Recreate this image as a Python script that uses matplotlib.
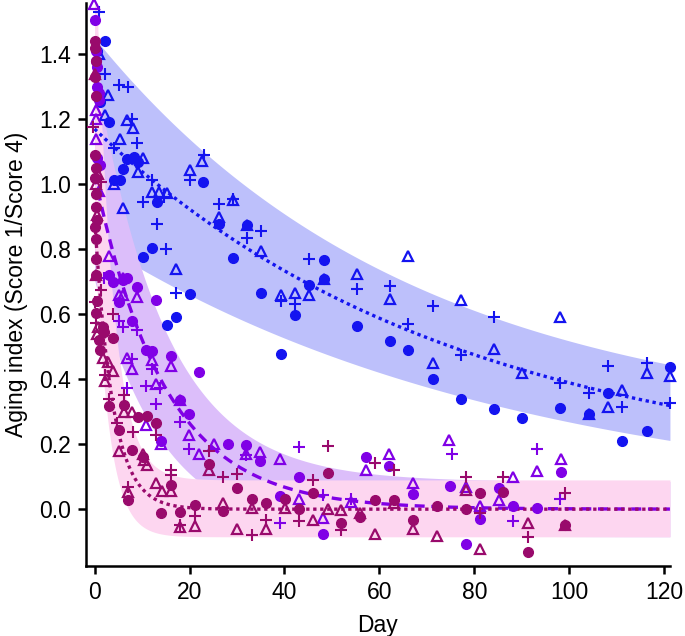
import numpy as np
import matplotlib
matplotlib.use('Agg')
import matplotlib.pyplot as plt

plt.rcParams['font.family'] = ['Liberation Sans', 'DejaVu Sans']

# ---- data: (day, aging index) ----
blue_circle = [(2.1, 1.44), (0.6, 1.41), (1.1, 1.253), (3.0, 1.19), (8.3, 1.084), (6.9, 1.076),
               (9.1, 1.069), (6.0, 1.048), (4.2, 1.012), (5.3, 1.012), (22.8, 1.007), (13.2, 0.944),
               (12.0, 0.804), (10.1, 0.775), (20.2, 0.662), (15.2, 0.568), (17.1, 0.591), (26.2, 0.877),
               (32.2, 0.874), (29.1, 0.772), (48.3, 0.768), (48.3, 0.708), (45.1, 0.69), (35.0, 0.666),
               (42.2, 0.596), (55.2, 0.564), (62.2, 0.517), (66.1, 0.489), (39.2, 0.476), (71.3, 0.40),
               (77.1, 0.338), (84.1, 0.309), (90.1, 0.281), (98.1, 0.311), (104.1, 0.294), (108.1, 0.359),
               (111.0, 0.21), (116.4, 0.241), (121.3, 0.436)]
blue_triangle = [(0.9, 1.40), (2.8, 1.274), (2.1, 1.214), (6.9, 1.197), (8.1, 1.172), (5.3, 1.14),
                 (10.3, 1.08), (9.1, 1.038), (4.2, 1.002), (20.2, 1.045), (22.7, 1.07), (12.1, 0.976),
                 (13.6, 0.976), (15.2, 0.973), (6.0, 0.927), (17.1, 0.738), (29.1, 0.95), (26.2, 0.90),
                 (32.2, 0.874), (35.0, 0.794), (48.3, 0.708), (39.2, 0.66), (42.2, 0.666), (45.1, 0.658),
                 (55.2, 0.723), (66.1, 0.778), (62.2, 0.647), (71.3, 0.451), (77.1, 0.643), (98.1, 0.59),
                 (84.1, 0.494), (90.1, 0.42), (111.0, 0.366), (116.4, 0.419), (121.3, 0.41), (108.1, 0.315),
                 (104.1, 0.294)]
blue_plus = [(0.9, 1.53), (2.1, 1.34), (5.1, 1.305), (7.0, 1.30), (7.9, 1.202), (9.0, 1.127), (4.2, 1.112),
             (12.1, 1.012), (20.2, 1.012), (14.6, 0.961), (10.2, 0.944), (13.2, 0.876), (15.0, 0.80),
             (17.1, 0.664), (23.0, 1.09), (26.2, 0.94), (29.1, 0.955), (35.0, 0.856), (32.2, 0.833),
             (45.1, 0.77), (39.2, 0.64), (42.2, 0.63), (55.2, 0.677), (62.2, 0.687), (66.1, 0.569),
             (71.3, 0.626), (84.1, 0.592), (77.1, 0.473), (98.1, 0.387), (104.1, 0.358), (108.1, 0.44),
             (116.4, 0.45), (121.3, 0.328), (111.0, 0.315)]

purple_circle = [(0.0, 1.505), (0.3, 1.41), (0.3, 1.38), (0.6, 1.36), (0.6, 1.30), (0.9, 1.28), (1.0, 1.26),
                 (0.5, 1.08), (1.2, 1.06), (3.0, 0.72), (3.9, 0.70), (6.9, 0.71), (6.0, 0.705), (9.0, 0.684),
                 (5.1, 0.638), (12.9, 0.645), (7.9, 0.578), (10.8, 0.489), (12.1, 0.486), (16.2, 0.47),
                 (22.0, 0.422), (18.0, 0.335), (19.9, 0.292), (13.9, 0.21), (28.1, 0.199), (32.0, 0.197),
                 (34.9, 0.149), (43.0, 0.10), (39.0, 0.04), (48.1, -0.077), (57.1, 0.161), (62.0, 0.132),
                 (67.1, 0.048), (74.8, 0.071), (78.2, -0.106), (81.1, -0.029), (85.2, 0.064), (88.1, 0.009),
                 (93.3, 0.005), (98.2, 0.115)]
purple_triangle = [(-0.1, 1.554), (0.2, 1.228), (0.2, 1.20), (0.4, 1.14), (1.0, 0.98), (3.0, 0.78),
                   (6.0, 0.71), (5.1, 0.66), (6.0, 0.66), (9.0, 0.653), (12.1, 0.458), (16.2, 0.44),
                   (6.9, 0.466), (7.9, 0.43), (12.9, 0.384), (18.0, 0.335), (10.8, 0.258), (19.9, 0.228),
                   (22.0, 0.171), (13.9, 0.20), (25.1, 0.202), (32.0, 0.171), (34.9, 0.176), (39.0, 0.153),
                   (43.0, 0.031), (48.1, -0.026), (54.1, 0.022), (57.1, 0.122), (62.0, 0.169), (67.1, 0.079),
                   (74.7, 0.214), (78.3, 0.069), (81.1, 0.009), (85.2, 0.028), (88.1, 0.10), (93.3, 0.118),
                   (98.2, 0.154)]
purple_plus = [(2.0, 0.71), (5.1, 0.58), (6.0, 0.56), (9.0, 0.55), (7.9, 0.461), (12.1, 0.43), (6.9, 0.373),
               (10.8, 0.378), (13.8, 0.373), (12.9, 0.325), (18.1, 0.269), (19.9, 0.184), (32.0, 0.167),
               (43.0, 0.19), (39.0, -0.042), (48.1, 0.045), (54.1, 0.03), (75.2, 0.169), (88.1, -0.036),
               (93.3, 0.185), (98.1, 0.031)]

magenta_circle = [(0.0, 1.44), (0.0, 1.42), (0.2, 1.38), (0.1, 1.33), (0.3, 1.27), (0.0, 1.09), (0.2, 1.05),
                  (0.1, 1.02), (0.3, 0.97), (0.2, 0.93), (0.5, 0.89), (0.0, 0.869), (0.2, 0.83), (0.3, 0.77),
                  (0.2, 0.72), (0.6, 0.64), (0.3, 0.603), (1.8, 0.56), (2.0, 0.545), (3.9, 0.527), (1.0, 0.52),
                  (1.1, 0.489), (3.0, 0.317), (6.2, 0.32), (9.1, 0.284), (11.1, 0.286), (12.9, 0.266),
                  (5.1, 0.245), (7.9, 0.182), (10.1, 0.16), (16.1, 0.074), (7.0, 0.028), (14.1, -0.013),
                  (18.1, -0.01), (21.1, 0.012), (24.1, 0.138), (30.0, 0.066), (27.1, -0.005), (33.1, 0.03),
                  (36.1, 0.019), (40.1, 0.03), (43.0, 0.002), (46.0, 0.051), (49.1, 0.11), (52.0, -0.042),
                  (56.0, -0.024), (59.0, 0.028), (63.0, 0.028), (67.0, -0.034), (72.1, 0.009), (78.2, -0.001),
                  (81.1, 0.05), (86.0, 0.053), (91.2, -0.131), (99.2, -0.049)]
magenta_triangle = [(0.0, 1.34), (0.7, 1.03), (0.3, 1.0), (0.5, 0.905), (0.3, 0.72), (0.7, 0.56), (0.5, 0.54),
                    (1.8, 0.465), (2.8, 0.453), (3.9, 0.425), (2.3, 0.395), (6.2, 0.30), (7.9, 0.30),
                    (5.1, 0.178), (10.1, 0.17), (11.0, 0.135), (10.5, 0.15), (12.9, 0.079), (7.0, 0.054),
                    (14.3, 0.056), (16.1, 0.056), (21.1, -0.052), (18.1, -0.055), (24.1, 0.122), (27.1, 0.018),
                    (33.1, 0.005), (36.1, -0.062), (30.0, -0.062), (40.1, 0.005), (46.0, -0.032), (49.1, 0.002),
                    (52.0, -0.003), (56.0, -0.013), (59.0, -0.077), (63.0, 0.018), (67.0, -0.06), (72.1, -0.083),
                    (78.2, 0.058), (81.1, -0.124), (91.2, -0.044), (99.2, -0.049)]
magenta_plus = [(-0.3, 1.176), (1.4, 1.007), (1.4, 0.674), (0.0, 0.637), (3.9, 0.602), (0.3, 0.572),
                (2.3, 0.412), (3.0, 0.34), (6.2, 0.35), (4.8, 0.264), (8.1, 0.238), (12.9, 0.228),
                (16.1, 0.105), (16.1, 0.12), (7.0, 0.069), (21.1, -0.02), (18.1, -0.05), (24.1, 0.179),
                (27.1, 0.098), (30.0, 0.108), (36.1, -0.034), (33.1, -0.08), (43.0, -0.035), (46.0, 0.089),
                (49.1, 0.194), (52.0, -0.065), (59.0, 0.143), (63.0, 0.12), (78.2, 0.1), (81.1, -0.011),
                (86.0, 0.1), (91.2, -0.085), (99.2, 0.05)]

# exponential fits  y = a*exp(-k*t) + c  (fit, upper and lower band)
blue_fit, blue_hi, blue_lo = (1.07, 0.0131, 0.10), (1.2, 0.015, 0.25), (0.825, 0.01123, 0.0)
purple_fit, purple_hi, purple_lo = (1.03, 0.068, 0.0), (1.28, 0.068, 0.085), (0.79, 0.07, -0.085)
magenta_fit, magenta_hi, magenta_lo = (0.9, 0.265, 0.0), (1.7, 0.29, 0.09), (0.9, 0.33, -0.085)

c_blue, c_purple, c_magenta = '#1414f0', '#8000e6', '#990a6c'
band_blue, band_purple, band_magenta = '#bdc0fb', '#dcbefa', '#fdd6f0'


def expo(p, t):
    a, k, c = p
    return a * np.exp(-k * t) + c


t = np.linspace(0, 121.2, 600)

fig = plt.figure(figsize=(6.85, 6.36), dpi=100)
ax = fig.add_axes([0.1255, 0.110, 0.8525, 0.885])

groups = [
    (blue_fit, blue_hi, blue_lo, c_blue, band_blue, (0, (1, 1.1))),
    (purple_fit, purple_hi, purple_lo, c_purple, band_purple, (0, (3, 2.0))),
    (magenta_fit, magenta_hi, magenta_lo, c_magenta, band_magenta, (0, (1, 1.1))),
]
for fit, hi, lo, col, bcol, ls in groups:
    ax.fill_between(t, expo(lo, t), expo(hi, t), color=bcol, lw=0, zorder=1)
for fit, hi, lo, col, bcol, ls in groups:
    ax.plot(t, expo(fit, t), color=col, lw=2.4, ls=ls, zorder=2)

pts = [
    (blue_circle, blue_triangle, blue_plus, c_blue),
    (purple_circle, purple_triangle, purple_plus, c_purple),
    (magenta_circle, magenta_triangle, magenta_plus, c_magenta),
]
for circ, tri, plus, col in pts:
    d = np.array(circ)
    ax.plot(d[:, 0], d[:, 1], 'o', ms=7, color=col, mec=col, zorder=3, clip_on=False)
    d = np.array(tri)
    ax.plot(d[:, 0], d[:, 1], '^', ms=7.5, mfc='none', mec=col, mew=1.6, zorder=3, clip_on=False)
    d = np.array(plus)
    ax.plot(d[:, 0], d[:, 1], '+', ms=8, color=col, mew=1.5, zorder=3, clip_on=False)

ax.set_xlim(-1.81, 121.2)
ax.set_ylim(-0.175, 1.557)
ax.set_xticks([0, 20, 40, 60, 80, 100, 120])
ax.set_yticks([0.0, 0.2, 0.4, 0.6, 0.8, 1.0, 1.2, 1.4])
ax.set_yticklabels(['0.0', '0.2', '0.4', '0.6', '0.8', '1.0', '1.2', '1.4'])

for s in ['top', 'right']:
    ax.spines[s].set_visible(False)
for s in ['left', 'bottom']:
    ax.spines[s].set_linewidth(1.8)
ax.tick_params(direction='out', length=6, width=1.8, labelsize=16.5, pad=5)

ax.set_xlabel('Day', fontsize=16.5, labelpad=7)
ax.set_ylabel('Aging index (Score 1/Score 4)', fontsize=16.5, labelpad=8)

fig.savefig('out.png', dpi=100)
